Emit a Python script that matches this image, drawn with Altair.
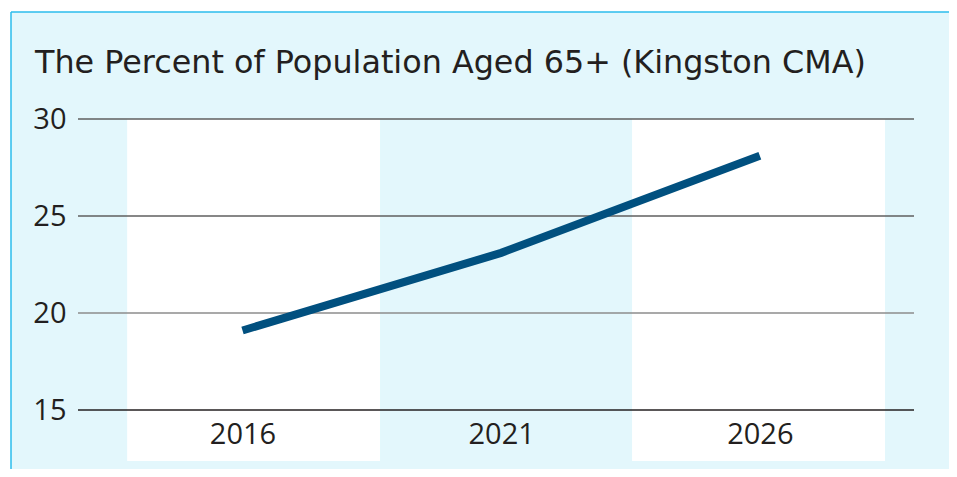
import altair as alt
import pandas as pd

# --- data ---
years = [2016, 2021, 2026]
pct_65_plus = [19.1, 23.1, 28.1]

band_start = [2013.77, 2018.66, 2023.53]
band_end = [2018.66, 2023.53, 2028.42]
band_fill = ["#ffffff", "#e3f7fc", "#ffffff"]

y_ticks = [15, 20, 25, 30]
grid_colors = ["#231f20", "#8c8c8c", "#5f5f5f", "#5f5f5f"]

title_text = "The Percent of Population Aged 65+ (Kingston CMA)"

BG = "#e3f7fc"
LINE = "#01507f"
TEXT = "#231f20"

W, H = 836, 291
x_dom = [2012.82, 2028.98]
y_dom = [15, 30]

df = pd.DataFrame({"year": years, "pct": pct_65_plus})
bands = pd.DataFrame({"s": band_start, "e": band_end, "fill": band_fill})
grid = pd.DataFrame({"v": y_ticks, "c": grid_colors})
one = pd.DataFrame({"t": [title_text]})

xs = alt.Scale(domain=x_dom, nice=False, zero=False)
ys = alt.Scale(domain=y_dom, nice=False, zero=False)

panel = alt.Chart(one).mark_rect(color=BG).encode(
    x=alt.value(-67), x2=alt.value(W + 200), y=alt.value(-107), y2=alt.value(H + 200)
)
border_left = alt.Chart(one).mark_rule(color="#2bbdec", strokeWidth=1.5).encode(
    x=alt.value(-67), y=alt.value(-107), y2=alt.value(H + 200)
)
border_top = alt.Chart(one).mark_rule(color="#2bbdec", strokeWidth=1.5).encode(
    y=alt.value(-107), x=alt.value(-67), x2=alt.value(W + 200)
)

band_layer = alt.Chart(bands).mark_rect().encode(
    x=alt.X("s:Q", scale=xs,
            axis=alt.Axis(values=years, format="d", title=None, grid=False, ticks=False,
                          domain=False, labelFontSize=29, labelFont="Open Sans",
                          labelColor=TEXT, labelPadding=10, zindex=2)),
    x2="e:Q",
    y=alt.value(0),
    y2=alt.value(342),
    color=alt.Color("fill:N", scale=None),
)

grid_layer = alt.Chart(grid).mark_rule(strokeWidth=1.4).encode(
    y=alt.Y("v:Q", scale=ys,
            axis=alt.Axis(values=y_ticks, title=None, grid=False, ticks=False, domain=False,
                          labelFontSize=29, labelFont="Open Sans", labelColor=TEXT,
                          labelPadding=12, zindex=2)),
    x=alt.value(0),
    x2=alt.value(W),
    color=alt.Color("c:N", scale=None),
)

line_layer = alt.Chart(df).mark_line(color=LINE, strokeWidth=8, strokeCap="butt").encode(
    x=alt.X("year:Q", scale=xs),
    y=alt.Y("pct:Q", scale=ys),
)

title_layer = alt.Chart(one).mark_text(
    align="left", baseline="alphabetic", font="DejaVu Sans", fontSize=31.8, color=TEXT
).encode(x=alt.value(-43), y=alt.value(-46), text="t:N")

chart = alt.layer(
    panel, border_left, border_top, band_layer, grid_layer, line_layer, title_layer
).properties(
    width=W, height=H,
    autosize=alt.AutoSizeParams(type="none"),
    padding={"left": 70, "top": 111, "right": 35, "bottom": 59},
    background="#ffffff",
).configure_view(strokeWidth=0)

chart.save("out.html", embed_options={"renderer": "svg", "actions": False})
